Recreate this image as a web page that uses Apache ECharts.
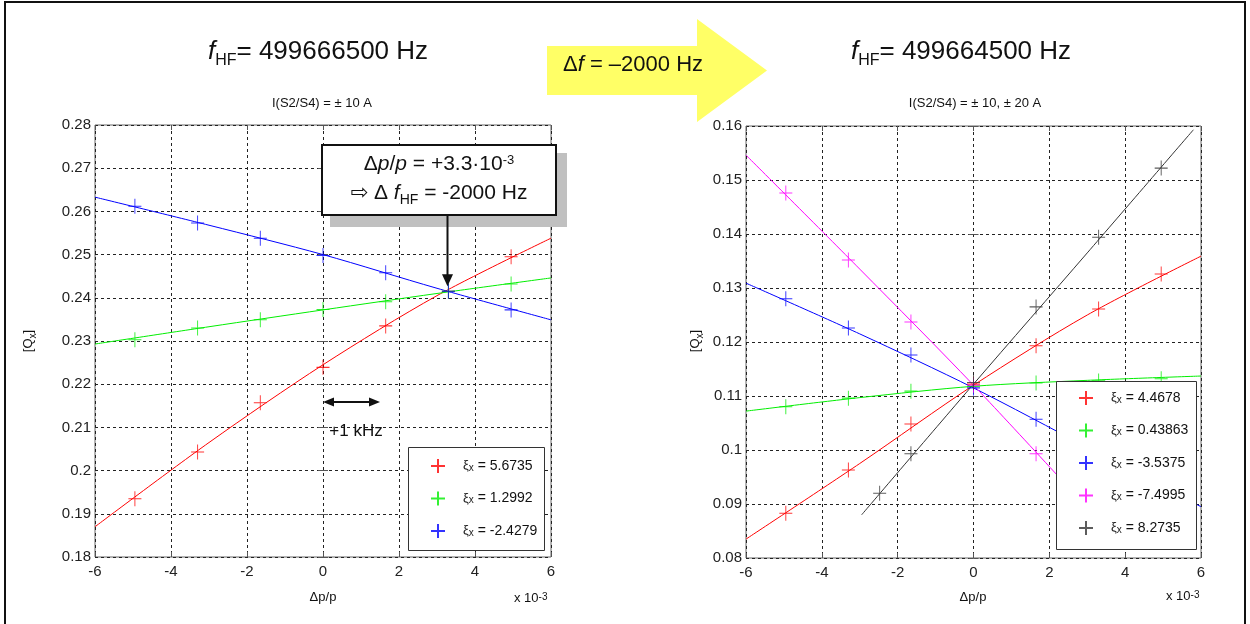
<!DOCTYPE html>
<html lang="en">
<head>
<meta charset="UTF-8">
<title>Qx vs dp/p</title>
<script src="https://cdn.jsdelivr.net/npm/echarts@6/dist/echarts.min.js"></script>
<style>
html, body { margin: 0; padding: 0; background: #fff; }
#main { width: 1250px; height: 624px; }
</style>
</head>
<body>
<div id="main"></div>
<script>
// momentum offsets of the measurements (x 10^-3)
var dpp = [-4.95, -3.3, -1.65, 0, 1.65, 3.3, 4.95];
var dppBlack = [-2.475, -1.65, 0, 1.65, 3.3, 4.95];
// fitted curves at these offsets
var fitX = [-6, -3, 0, 3, 6];
var fitXMagenta = [-6, -3, 0, 3.3];
var fitXBlack = [-2.95, 0, 3, 5.8];

// left plot, f_HF = 499666500 Hz
var names1 = ['ξx = 5.6735', 'ξx = 1.2992', 'ξx = -2.4279'];
var qRed1 = [0.1935, 0.2043, 0.2157, 0.2239, 0.2335, 0.2415, 0.2495];
var qGreen1 = [0.2303, 0.2330, 0.2349, 0.2373, 0.2391, 0.2415, 0.2432];
var qBlue1 = [0.2612, 0.2573, 0.2538, 0.2498, 0.2458, 0.2415, 0.2372];
var fitRed1 = [0.1870, 0.2065, 0.2245, 0.2405, 0.2538];
var fitGreen1 = [0.2293, 0.2333, 0.2372, 0.2410, 0.2446];
var fitBlue1 = [0.2633, 0.2568, 0.2500, 0.2422, 0.2349];
var yTicks1 = [0.18, 0.28];

// right plot, f_HF = 499664500 Hz
var names2 = ['ξx = 4.4678', 'ξx = 0.43863', 'ξx = -3.5375', 'ξx = -7.4995', 'ξx = 8.2735'];
var qRed2 = [0.0883, 0.0963, 0.1048, 0.1122, 0.1193, 0.1261, 0.1326];
var qGreen2 = [0.1080, 0.1096, 0.1109, 0.1118, 0.1124, 0.1128, 0.1132];
var qBlue2 = [0.1280, 0.1226, 0.1176, 0.1115, 0.1057, 0.1003, 0.0945];
var qMagenta2 = [0.1476, 0.1352, 0.1237, 0.1120, 0.0993, 0.0870, 0.0750];
var qBlack2 = [0.0920, 0.0993, 0.1125, 0.1265, 0.1394, 0.1522];
var fitRed2 = [0.0835, 0.0975, 0.1120, 0.1250, 0.1359];
var fitGreen2 = [0.1072, 0.1097, 0.1118, 0.1129, 0.1137];
var fitBlue2 = [0.1309, 0.1215, 0.1115, 0.1005, 0.0895];
var fitMagenta2 = [0.1546, 0.1335, 0.1120, 0.0870];
var fitBlack2 = [0.0880, 0.1122, 0.1365, 0.1593];
var yTicks2 = [0.08, 0.16];

// annotation anchors (data coords of left plot)
var crossing1 = [3.25, 0.2415];
var khzArrow = [0, 1.5, 0.2159];

var FONT = 'Liberation Sans, Arial, DejaVu Sans, sans-serif';
var PLUS = 'path://M0,-10L0,10M-10,0L10,0';

function pts(xs, ys) {
    return xs.map(function (x, i) { return [x, ys[i]]; });
}

var series = [];
function addSet(name, color, idx, xs, ys, fxs, fys) {
    series.push({
        type: 'line', xAxisIndex: idx, yAxisIndex: idx,
        data: pts(fxs, fys), smooth: 0.3, symbol: 'none', silent: true,
        lineStyle: { color: color, width: 1 }, itemStyle: { color: color }, z: 2
    });
    series.push({
        name: name, type: 'scatter', xAxisIndex: idx, yAxisIndex: idx,
        data: pts(xs, ys), symbol: PLUS, symbolSize: [13, 15],
        itemStyle: { color: color, borderColor: color, borderWidth: 1 }, z: 2
    });
}
addSet(names1[0], '#ff0000', 0, dpp, qRed1, fitX, fitRed1);
addSet(names1[1], '#00ee00', 0, dpp, qGreen1, fitX, fitGreen1);
addSet(names1[2], '#0000ff', 0, dpp, qBlue1, fitX, fitBlue1);
addSet(names2[0], '#ff0000', 1, dpp, qRed2, fitX, fitRed2);
addSet(names2[1], '#00ee00', 1, dpp, qGreen2, fitX, fitGreen2);
addSet(names2[2], '#0000ff', 1, dpp, qBlue2, fitX, fitBlue2);
addSet(names2[3], '#ff00ff', 1, dpp, qMagenta2, fitXMagenta, fitMagenta2);
addSet(names2[4], '#333333', 1, dppBlack, qBlack2, fitXBlack, fitBlack2);

function xAx(grid, pos, main) {
    return {
        type: 'value', gridIndex: grid, position: pos, min: -6, max: 6, interval: 2,
        axisLine: { show: false },
        axisTick: { show: true, inside: true, length: 5, lineStyle: { color: '#555' } },
        axisLabel: { show: main, color: '#222', fontSize: 15, margin: 7, fontFamily: FONT },
        splitLine: { show: main, lineStyle: { color: '#222', type: [3, 3], width: 1 } }
    };
}
function yAx(grid, pos, main, range) {
    return {
        type: 'value', gridIndex: grid, position: pos, min: range[0], max: range[1], interval: 0.01,
        axisLine: { show: false },
        axisTick: { show: true, inside: true, length: 5, lineStyle: { color: '#555' } },
        axisLabel: {
            show: main, color: '#222', fontSize: 15, margin: 4, fontFamily: FONT,
            formatter: function (v) { return String(+v.toFixed(2)); }
        },
        splitLine: { show: main, lineStyle: { color: '#222', type: [3, 3], width: 1 } }
    };
}

var legendRich = {
    g: { fontSize: 13, fontFamily: FONT, color: '#222', lineHeight: 14, verticalAlign: 'top', padding: [0, 0, 0, 13] },
    s: { fontSize: 10, fontFamily: FONT, color: '#222', lineHeight: 10, verticalAlign: 'bottom', padding: [8, 0, 0, 0] },
    t: { fontSize: 14, fontFamily: FONT, color: '#111', lineHeight: 14, verticalAlign: 'top' }
};
function legendText(name) {
    return '{g|ξ}{s|x}{t| = ' + name.split('= ')[1] + '}';
}
function legendOpt(names, left, top) {
    return {
        data: names, orient: 'vertical', left: left, top: top,
        itemWidth: 14, itemHeight: 14, itemGap: 13.5, selectedMode: false, z: 5,
        formatter: legendText, textStyle: { rich: legendRich }
    };
}

var option = {
    animation: false,
    grid: [
        { left: 95, top: 125, width: 456, height: 432, show: true, borderColor: '#666', borderWidth: 1, outerBoundsMode: 'none' },
        { left: 746, top: 126, width: 455, height: 432, show: true, borderColor: '#666', borderWidth: 1, outerBoundsMode: 'none' }
    ],
    xAxis: [xAx(0, 'bottom', true), xAx(1, 'bottom', true), xAx(0, 'top', false), xAx(1, 'top', false)],
    yAxis: [yAx(0, 'left', true, yTicks1), yAx(1, 'left', true, yTicks2), yAx(0, 'right', false, yTicks1), yAx(1, 'right', false, yTicks2)],
    legend: [legendOpt(names1, 425, 450), legendOpt(names2, 1073, 382)],
    series: series
};

var chart = echarts.init(document.getElementById('main'));
chart.setOption(option);

// rich-text helpers for the free labels
function txt(x, y, text, rich, extra) {
    var el = {
        type: 'text', x: x, y: y, z: 6,
        style: { text: text, rich: rich, align: 'center', verticalAlign: 'middle', fill: '#111', font: '14px ' + FONT }
    };
    for (var k in extra) el[k] = extra[k];
    return el;
}
function plain(x, y, text, size, align) {
    return {
        type: 'text', x: x, y: y, z: 6,
        style: { text: text, font: size + 'px ' + FONT, fill: '#111', align: align || 'center', verticalAlign: 'middle' }
    };
}
var titleRich = {
    i: { fontSize: 26, fontStyle: 'italic', fontFamily: FONT, lineHeight: 30, verticalAlign: 'top', fill: '#111' },
    s: { fontSize: 16, fontFamily: FONT, lineHeight: 18, verticalAlign: 'bottom', padding: [14, 0, 0, 0], fill: '#111' },
    n: { fontSize: 26, fontFamily: FONT, lineHeight: 30, verticalAlign: 'top', fill: '#111' }
};
var boxRich = {
    i: { fontSize: 21, fontStyle: 'italic', fontFamily: FONT, lineHeight: 24, verticalAlign: 'top', fill: '#111' },
    n: { fontSize: 21, fontFamily: 'Liberation Sans, DejaVu Sans, sans-serif', lineHeight: 24, verticalAlign: 'top', fill: '#111' },
    s: { fontSize: 14, fontFamily: FONT, lineHeight: 14, verticalAlign: 'bottom', padding: [13, 0, 0, 0], fill: '#111' },
    u: { fontSize: 13, fontFamily: FONT, lineHeight: 13, verticalAlign: 'top', fill: '#111' }
};
var smallRich = {
    n: { fontSize: 13, fontFamily: FONT, lineHeight: 16, verticalAlign: 'top', fill: '#111' },
    s: { fontSize: 10, fontFamily: FONT, lineHeight: 10, verticalAlign: 'bottom', padding: [9, 0, 0, 0], fill: '#111' },
    u: { fontSize: 10, fontFamily: FONT, lineHeight: 10, verticalAlign: 'top', fill: '#111' }
};

var tip = chart.convertToPixel({ gridIndex: 0 }, crossing1);
var k0 = chart.convertToPixel({ gridIndex: 0 }, [khzArrow[0], khzArrow[2]]);
var k1 = chart.convertToPixel({ gridIndex: 0 }, [khzArrow[1], khzArrow[2]]);
var ax = Math.round(tip[0]) + 0.5, ay = tip[1] - 5;

var graphic = [
    // outer frame
    { type: 'rect', z: 1, shape: { x: 5, y: 2, width: 1240, height: 660 }, style: { fill: 'none', stroke: '#111', lineWidth: 2 } },
    // yellow arrow
    { type: 'polygon', z: 1, shape: { points: [[547, 46], [697, 46], [697, 19], [767, 70.5], [697, 122], [697, 95], [547, 95]] }, style: { fill: '#ffff66' } },
    txt(633, 65, '{n|Δ}{i|f}{n| = –2000 Hz}', {
        i: { fontSize: 22, fontStyle: 'italic', fontFamily: FONT, fill: '#111' },
        n: { fontSize: 22, fontFamily: FONT, fill: '#111' }
    }),
    // titles
    txt(318, 54, '{i|f}{s|HF}{n|= 499666500 Hz}', titleRich),
    txt(961, 54, '{i|f}{s|HF}{n|= 499664500 Hz}', titleRich),
    plain(322, 103, 'I(S2/S4) = ± 10 A', 13),
    plain(975, 103, 'I(S2/S4) = ± 10, ± 20 A', 13),
    // axis names
    plain(323, 597, 'Δp/p', 13),
    plain(973, 597, 'Δp/p', 13),
    txt(30, 341, '{n|[Q}{s|x}{n|]}', smallRich, { rotation: Math.PI / 2 }),
    txt(697, 341, '{n|[Q}{s|x}{n|]}', smallRich, { rotation: Math.PI / 2 }),
    txt(514, 600, '', null, { style: { text: '{n|x 10}{u|-3}', rich: smallRich, align: 'left', verticalAlign: 'middle' } }),
    txt(1166, 598, '', null, { style: { text: '{n|x 10}{u|-3}', rich: smallRich, align: 'left', verticalAlign: 'middle' } }),
    // legend boxes (cover the curves)
    { type: 'rect', z: 3, shape: { x: 408.5, y: 447.5, width: 136, height: 103 }, style: { fill: '#fff', stroke: '#333', lineWidth: 1 } },
    { type: 'rect', z: 3, shape: { x: 1056.5, y: 381.5, width: 140, height: 168 }, style: { fill: '#fff', stroke: '#333', lineWidth: 1 } },
    // annotation box
    { type: 'rect', z: 6, shape: { x: 330, y: 153, width: 237, height: 74 }, style: { fill: '#c0c0c0' } },
    { type: 'rect', z: 7, shape: { x: 322, y: 145, width: 234, height: 70 }, style: { fill: '#fff', stroke: '#111', lineWidth: 2 } },
    txt(439, 166, '{n|Δ}{i|p}{n|/}{i|p}{n| = +3.3·10}{u|-3}', boxRich, { z: 8 }),
    txt(439, 195, '{n|⇨ Δ }{i|f}{s|HF}{n| = -2000 Hz}', boxRich, { z: 8 }),
    { type: 'line', z: 7, shape: { x1: ax, y1: 216, x2: ax, y2: ay - 10 }, style: { stroke: '#111', lineWidth: 2 } },
    { type: 'polygon', z: 7, shape: { points: [[ax - 5.5, ay - 12], [ax + 5.5, ay - 12], [ax, ay]] }, style: { fill: '#111' } },
    // +1 kHz span
    { type: 'line', z: 7, shape: { x1: k0[0] + 8, y1: k0[1], x2: k1[0] - 8, y2: k1[1] }, style: { stroke: '#111', lineWidth: 2 } },
    { type: 'polygon', z: 7, shape: { points: [[k0[0], k0[1]], [k0[0] + 11, k0[1] - 4.5], [k0[0] + 11, k0[1] + 4.5]] }, style: { fill: '#111' } },
    { type: 'polygon', z: 7, shape: { points: [[k1[0], k1[1]], [k1[0] - 11, k1[1] - 4.5], [k1[0] - 11, k1[1] + 4.5]] }, style: { fill: '#111' } },
    plain(356, 431, '+1 kHz', 17)
];
chart.setOption({ graphic: graphic });
</script>
</body>
</html>
